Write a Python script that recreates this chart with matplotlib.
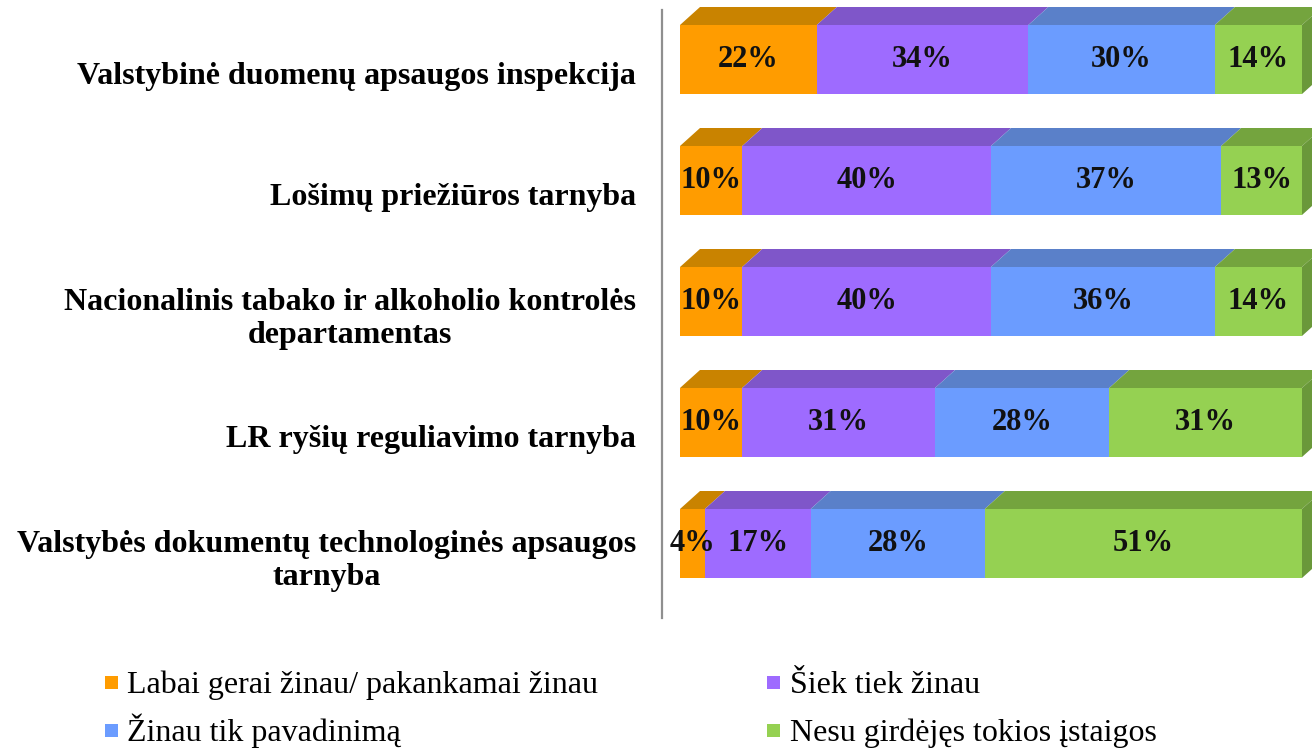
import matplotlib.pyplot as plt
import matplotlib.patches as patches
from matplotlib.lines import Line2D

plt.rcParams["font.family"] = ["Liberation Serif", "DejaVu Serif"]

categories = [
    "Valstybinė duomenų apsaugos inspekcija",
    "Lošimų priežiūros tarnyba",
    "Nacionalinis tabako ir alkoholio kontrolės\ndepartamentas",
    "LR ryšių reguliavimo tarnyba",
    "Valstybės dokumentų technologinės apsaugos\ntarnyba",
]
series_names = [
    "Labai gerai žinau/ pakankamai žinau",
    "Šiek tiek žinau",
    "Žinau tik pavadinimą",
    "Nesu girdėjęs tokios įstaigos",
]
values = [
    [22, 10, 10, 10, 4],
    [34, 40, 40, 31, 17],
    [30, 37, 36, 28, 28],
    [14, 13, 14, 31, 51],
]
front_colors = ["#FF9C00", "#9E6BFF", "#6B9CFF", "#95D152"]
top_colors = ["#C98300", "#7F56C9", "#5A80C9", "#74A43E"]
side_colors = ["#B07300", "#6C48AC", "#4C6DAC", "#6A983A"]

W, H = 1312, 748
fig = plt.figure(figsize=(W / 100, H / 100), dpi=100)
ax = fig.add_axes([680 / W, 1 - 616.1 / H, 622 / W, 605 / H])
ax.set_xlim(0, 100)
ax.set_ylim(4.6, -0.4)
ax.axis("off")

bar_h = 69 / 121
dx = 20 / 6.22   # depth in % units
dy = 18 / 121    # depth in row units

ypos = list(range(len(categories)))
lefts = [0] * len(categories)
for s, name in enumerate(series_names):
    bars = ax.barh(ypos, values[s], left=lefts, height=bar_h,
                   color=front_colors[s], label=name, zorder=3)
    for i, rect in enumerate(bars):
        x0 = rect.get_x()
        x1 = x0 + rect.get_width()
        yt = rect.get_y()
        top = patches.Polygon(
            [(x0, yt), (x1, yt), (x1 + dx, yt - dy), (x0 + dx, yt - dy)],
            closed=True, facecolor=top_colors[s], edgecolor="none",
            zorder=2, clip_on=False)
        ax.add_patch(top)
        if s == len(series_names) - 1:
            yb = yt + rect.get_height()
            side = patches.Polygon(
                [(x1, yt), (x1 + dx, yt - dy), (x1 + dx, yb - dy), (x1, yb)],
                closed=True, facecolor=side_colors[s], edgecolor="none",
                zorder=2, clip_on=False)
            ax.add_patch(side)
        ax.text(x0 + values[s][i] / 2, ypos[i], f"{values[s][i]}%",
                ha="center", va="center", fontsize=22, fontweight="bold",
                color="#111111", zorder=5)
    lefts = [l + v for l, v in zip(lefts, values[s])]

# category labels
for i, cat in enumerate(categories):
    ax.annotate(cat, xy=(636, ypos[i]), xycoords=("figure pixels", "data"),
                xytext=(0, -12.5), textcoords="offset points",
                ha="right", va="center", multialignment="center",
                fontsize=23, fontweight="bold", linespacing=1.2)

# vertical axis line
fig.add_artist(Line2D([662 / W, 662 / W], [1 - 10 / H, 1 - 618 / H],
                      color="#8f8f8f", lw=1.6))

# legend, two columns, row-wise order
marker_x = [105, 767]
text_x = [127, 790]
baseline_y = [693, 741]
for k, name in enumerate(series_names):
    col, row = k % 2, k // 2
    yb = baseline_y[row]
    fig.add_artist(patches.Rectangle(
        (marker_x[col] / W, 1 - (yb - 4) / H), 13 / W, 13 / H,
        transform=fig.transFigure, facecolor=front_colors[k],
        edgecolor="none"))
    fig.text(text_x[col] / W, 1 - yb / H, name, ha="left", va="baseline",
             fontsize=23)

fig.savefig("out.png", dpi=100)
